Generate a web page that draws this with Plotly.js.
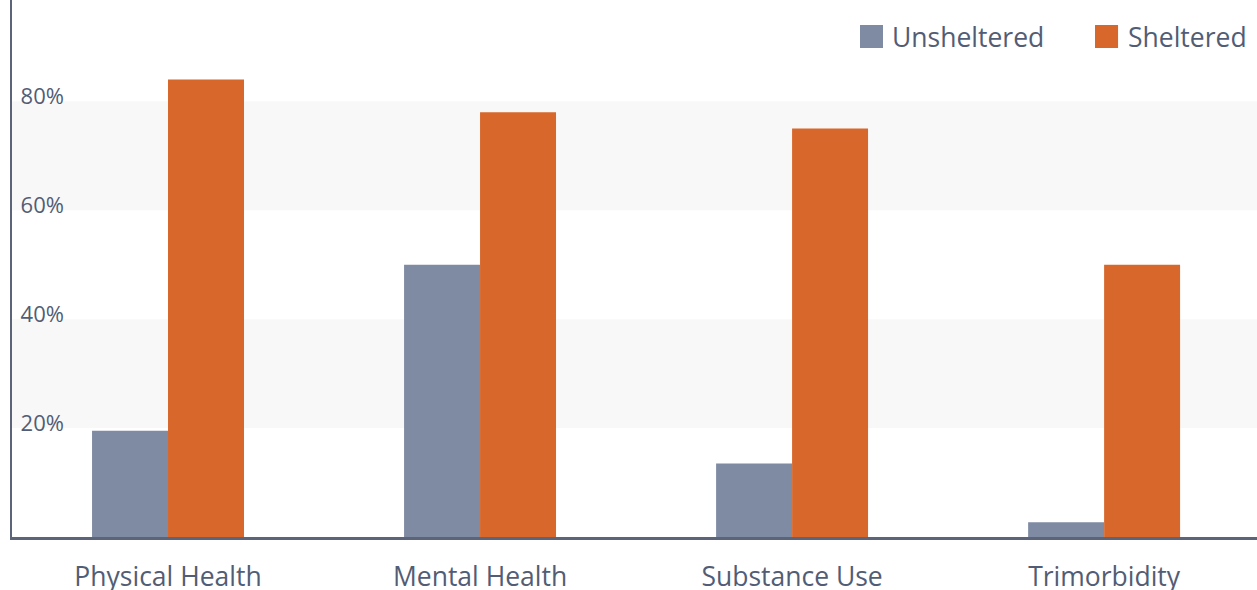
<!DOCTYPE html>
<html>
<head>
<meta charset="utf-8">
<script src="https://cdn.plot.ly/plotly-3.0.1.min.js"></script>
<style>
html,body{margin:0;padding:0;background:#fff;}
#chart{width:1257px;height:590px;}
</style>
</head>
<body>
<div id="chart"></div>
<script>
var categories = ["Physical Health", "Mental Health", "Substance Use", "Trimorbidity"];
var seriesNames = ["Unsheltered", "Sheltered"];
var unsheltered = [19.5, 50, 13.5, 2.7];
var sheltered = [84, 78, 75, 50];
var yTickVals = [20, 40, 60, 80];
var yTickText = ["20%", "40%", "60%", "80%"];
var bandRanges = [[20, 40], [60, 80]];

var colors = ["#7f8ba3", "#d7672a"];
var textColor = "#525d75";
var axisColor = "#5b6479";
var font = "'Open Sans', 'Noto Sans', sans-serif";

var traces = [
  {type: "bar", name: seriesNames[0], x: categories, y: unsheltered,
   marker: {color: colors[0]}, hoverinfo: "x+y", showlegend: false},
  {type: "bar", name: seriesNames[1], x: categories, y: sheltered,
   marker: {color: colors[1]}, hoverinfo: "x+y", showlegend: false}
];

var shapes = bandRanges.map(function (r) {
  return {type: "rect", xref: "paper", yref: "y", x0: 0, x1: 1, y0: r[0], y1: r[1],
          fillcolor: "#f8f8f8", line: {width: 0}, layer: "below"};
});

// custom legend (square swatches + labels)
var legendX = [0.6811, 0.8699];
var annotations = [];
seriesNames.forEach(function (n, i) {
  shapes.push({type: "rect", xref: "paper", yref: "paper",
    x0: legendX[i], x1: legendX[i] + 0.0185, y0: 0.9106, y1: 0.9534,
    fillcolor: colors[i], line: {width: 0}});
  annotations.push({xref: "paper", yref: "paper", x: legendX[i] + 0.0245, y: 0.9310,
    xanchor: "left", yanchor: "middle", text: n, showarrow: false,
    font: {family: font, size: 26.5, color: textColor}});
});

var layout = {
  width: 1257, height: 590,
  margin: {l: 12, r: 0, t: 0, b: 53},
  paper_bgcolor: "#ffffff", plot_bgcolor: "#ffffff",
  barmode: "group", bargap: 0.513, bargroupgap: 0,
  showlegend: false,
  font: {family: font, color: textColor},
  xaxis: {
    type: "category", range: [-0.5, 3.49],
    showline: true, linecolor: axisColor, linewidth: 2.5,
    showgrid: false, zeroline: false, ticks: "",
    ticklabelstandoff: 15,
    tickfont: {family: font, size: 26.5, color: textColor},
    fixedrange: true
  },
  yaxis: {
    range: [0, 98.6],
    showline: true, linecolor: axisColor, linewidth: 2.5,
    showgrid: false, zeroline: false, ticks: "",
    tickvals: yTickVals, ticktext: yTickText,
    ticklabelposition: "inside",
    ticklabelstandoff: 10,
    ticklabelshift: -5,
    tickfont: {family: font, size: 22, color: textColor},
    fixedrange: true
  },
  shapes: shapes,
  annotations: annotations
};

Plotly.newPlot("chart", traces, layout, {displayModeBar: false, staticPlot: true});
</script>
</body>
</html>
